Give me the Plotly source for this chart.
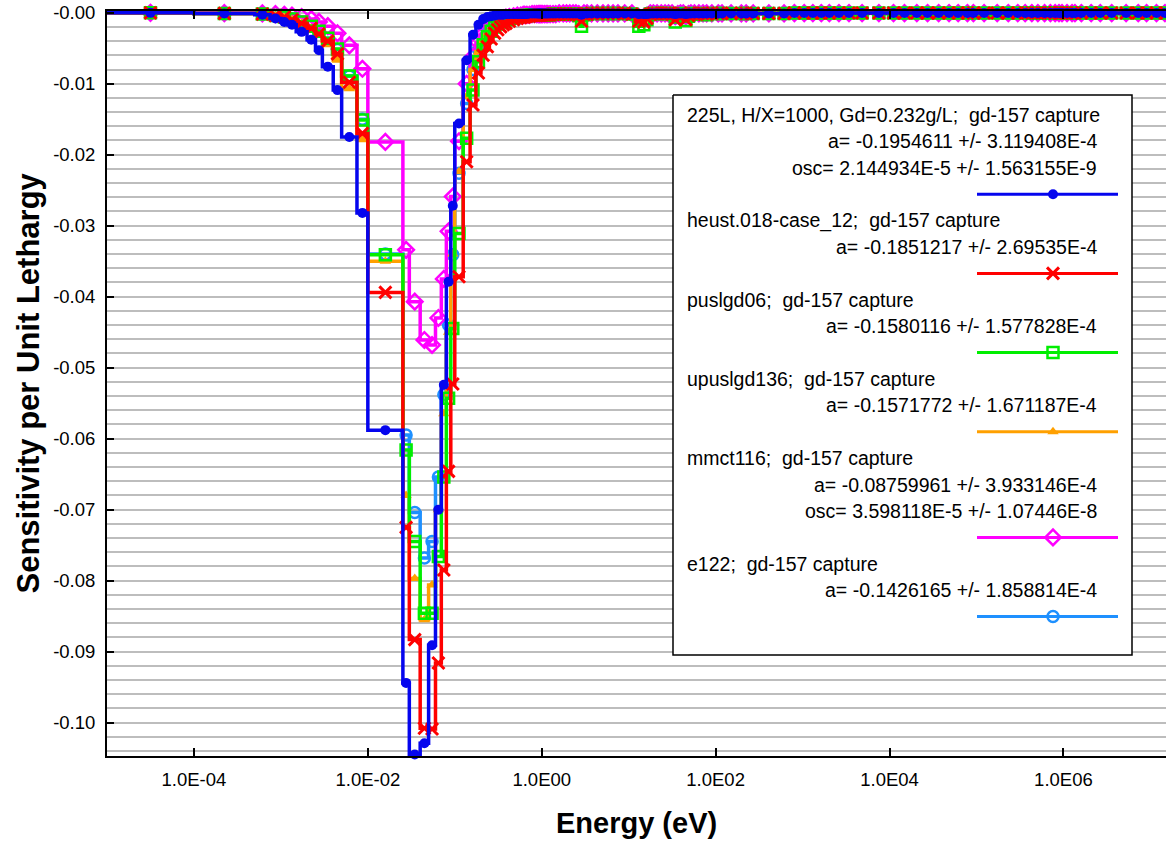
import numpy as np
import plotly.graph_objects as go

FONT = "Liberation Sans, Arial, sans-serif"

# ---------------- energy group boundaries (eV) ----------------
THERMAL_BOUNDS = [
    1e-5, 1e-4, 5e-4, 7.5e-4, 1e-3, 1.2e-3, 1.5e-3, 2e-3, 2.5e-3, 3e-3, 4e-3, 5e-3,
    7.5e-3, 1e-2, 2.53e-2, 3e-2, 4e-2, 5e-2, 6e-2, 7e-2, 8e-2, 9e-2, 0.1, 0.125,
    0.15, 0.175, 0.2, 0.225, 0.25, 0.275, 0.3, 0.325, 0.35, 0.375, 0.4, 0.45,
    0.5, 0.55, 0.6, 0.625, 0.65, 0.7, 0.75, 0.8, 0.85, 0.9, 0.925, 0.95, 0.975, 1.0,
]
EPI_BOUNDS = [
    1.05, 1.1, 1.15, 1.2, 1.3, 1.4, 1.5, 1.68, 1.86, 2.0,
    2.21, 2.38, 2.57, 2.77, 2.97, 3.15, 3.5, 4.0, 4.75, 5.4,
    6.25, 7.0, 8.1, 10.0, 11.9, 14.4, 15.5, 17.0, 18.5, 20.0,
    22.5, 25.0, 27.5, 30.0, 33.25, 35.5, 38.0, 41.0, 44.0, 47.0,
    50.6, 53.4, 61.0, 67.5, 76.0, 82.0, 100.0, 115.0, 122.0, 186.0,
    210.0, 240.0, 305.0, 550.0, 683.0, 950.0, 1150.0, 1500.0, 1800.0, 2290.0,
    3000.0, 3900.0, 6000.0, 9500.0, 1.3e4, 1.7e4, 2.5e4, 3e4, 4.5e4, 5.2e4,
    7.3e4, 8.5e4, 1e5, 1.5e5, 2e5, 2.7e5, 3.3e5, 4e5, 4.7e5, 5.5e5,
    6.7e5, 7.5e5, 8.61e5, 9.2e5, 1.01e6, 1.2e6, 1.317e6, 1.4e6, 1.85e6, 2.354e6,
    3e6, 4.304e6, 6.434e6, 8.187e6, 1e7, 1.384e7, 1.568e7, 2e7,
]

# ---------------- gd-157 capture sensitivity per unit lethargy ----------------
# 225L, H/X=1000, Gd=0.232g/L
s225L_thermal = [
    -0.00002, -0.0001, -0.0003, -0.0008, -0.0013, -0.0017, -0.0027, -0.0038, -0.0053, -0.0076,
    -0.0109, -0.0175, -0.0282, -0.0588, -0.0944, -0.1045, -0.1029, -0.0891, -0.0700, -0.0524,
    -0.0379, -0.0272, -0.0156, -0.0067, -0.0031, -0.0017, -0.0009, -0.0006, -0.0005, -0.0004,
    -0.0003, -0.0003, -0.0003, -0.0002, -0.0002, -0.0002, -0.0002, -0.0002, -0.0002, -0.0002,
    -0.0002, -0.0001, -0.0001, -0.0001, -0.0001, -0.0001, -0.0001, -0.0001, -0.0001,
]
s225L_epi = [
    -0.0001, -0.0001, -0.0001, -0.0001, -0.0001, -0.0001, -0.0001, -0.0001, -0.0001, -0.0001,
    -0.0001, -0.0001, -0.0001, -0.0001, -0.0003, -0.0001, -0.0001, -0.0001, -0.0001, -0.0001,
    -0.0001, -0.0001, -0.0001, -0.0001, -0.0001, -0.0002, -0.0002, -0.0002, -0.0001, -0.0001,
    -0.0001, -0.0001, -0.0001, -0.0001, -0.0001, -0.0002, -0.0001, -0.0001, -0.0001, -0.0002,
    -0.0001, -0.0001, -0.0001, -0.0001, -0.0001, -0.0001, -0.0001, -0.0001, -0.0001, -0.0001,
    -0.0001, -0.0001, -0.0001, -0.0001, -0.0001, -0.00005, -0.00005, -0.00005, -0.00005, -0.00005,
    -0.00005, -0.00005, -0.00005, -0.00005, -0.00005, -0.00005, -0.00005, -0.00005, -0.00005, -0.00005,
    -0.00005, -0.00005, -0.00005, -0.00005, -0.00005, -0.00005, -0.00005, -0.00005, -0.00005, -0.00005,
    -0.00005, -0.00005, -0.00005, -0.00005, -0.00005, -0.00005, -0.00005, -0.00005, -0.00005, -0.00005,
    -0.00005, -0.00005, -0.00005, -0.00005, -0.00005, -0.00005, -0.00005, -0.00005,
]

# heust.018-case_12
heust_thermal = [
    -0.00002, -0.0001, -0.0002, -0.0004, -0.0006, -0.0010, -0.0015, -0.0022, -0.0030, -0.0040,
    -0.0058, -0.0098, -0.0170, -0.0394, -0.0725, -0.0883, -0.1008, -0.1009, -0.0916, -0.0785,
    -0.0646, -0.0523, -0.0372, -0.0210, -0.0130, -0.0085, -0.0060, -0.0048, -0.0037, -0.0029,
    -0.0024, -0.0020, -0.0017, -0.0015, -0.0012, -0.0010, -0.0008, -0.0007, -0.0006, -0.0006,
    -0.0005, -0.0005, -0.0004, -0.0004, -0.0004, -0.0003, -0.0003, -0.0003, -0.0003,
]
heust_epi = [
    -0.0003, -0.0003, -0.0003, -0.0003, -0.0003, -0.0002, -0.0002, -0.0002, -0.0002, -0.0002,
    -0.0002, -0.0002, -0.0002, -0.0003, -0.0012, -0.0002, -0.0002, -0.0001, -0.0001, -0.0001,
    -0.0001, -0.0001, -0.0001, -0.0001, -0.0002, -0.0012, -0.0013, -0.0008, -0.0002, -0.0001,
    -0.0001, -0.0001, -0.0001, -0.0001, -0.0002, -0.0010, -0.0003, -0.0001, -0.0002, -0.0010,
    -0.0004, -0.0001, -0.0002, -0.0001, -0.0001, -0.0002, -0.0001, -0.0001, -0.0001, -0.0001,
    -0.0001, -0.0001, -0.0001, -0.0001, -0.0001, -0.00005, -0.00005, -0.00005, -0.00005, -0.00005,
    -0.00005, -0.00005, -0.00005, -0.00005, -0.00005, -0.00005, -0.00005, -0.00005, -0.00005, -0.00005,
    -0.00005, -0.00005, -0.00005, -0.00005, -0.00005, -0.00005, -0.00005, -0.00005, -0.00005, -0.00005,
    -0.00005, -0.00005, -0.00005, -0.00005, -0.00005, -0.00005, -0.00005, -0.00005, -0.00005, -0.00005,
    -0.00005, -0.00005, -0.00005, -0.00005, -0.00005, -0.00005, -0.00005, -0.00005,
]

# puslgd06
puslgd06_thermal = [
    -0.00002, -0.0001, -0.0002, -0.0004, -0.0006, -0.0009, -0.0013, -0.0019, -0.0026, -0.0036,
    -0.0051, -0.0089, -0.0151, -0.0341, -0.0616, -0.0745, -0.0846, -0.0846, -0.0766, -0.0654,
    -0.0543, -0.0445, -0.0311, -0.0177, -0.0109, -0.0069, -0.0045, -0.0034, -0.0026, -0.0020,
    -0.0016, -0.0013, -0.0011, -0.0010, -0.0008, -0.0007, -0.0006, -0.0005, -0.0005, -0.0004,
    -0.0004, -0.0004, -0.0003, -0.0003, -0.0003, -0.0003, -0.0003, -0.0003, -0.0003,
]
puslgd06_epi = [
    -0.0003, -0.0003, -0.0003, -0.0003, -0.0003, -0.0002, -0.0002, -0.0002, -0.0002, -0.0002,
    -0.0002, -0.0002, -0.0002, -0.0004, -0.0019, -0.0003, -0.0002, -0.0001, -0.0001, -0.0001,
    -0.0001, -0.0001, -0.0001, -0.0001, -0.0002, -0.0019, -0.0017, -0.0010, -0.0002, -0.0001,
    -0.0001, -0.0001, -0.0001, -0.0001, -0.0002, -0.0013, -0.0004, -0.0001, -0.0002, -0.0011,
    -0.0005, -0.0001, -0.0002, -0.0001, -0.0002, -0.0003, -0.0001, -0.0001, -0.0001, -0.0001,
    -0.0001, -0.0001, -0.0001, -0.0001, -0.0001, -0.00005, -0.00005, -0.00005, -0.00005, -0.00005,
    -0.00005, -0.00005, -0.00005, -0.00005, -0.00005, -0.00005, -0.00005, -0.00005, -0.00005, -0.00005,
    -0.00005, -0.00005, -0.00005, -0.00005, -0.00005, -0.00005, -0.00005, -0.00005, -0.00005, -0.00005,
    -0.00005, -0.00005, -0.00005, -0.00005, -0.00005, -0.00005, -0.00005, -0.00005, -0.00005, -0.00005,
    -0.00005, -0.00005, -0.00005, -0.00005, -0.00005, -0.00005, -0.00005, -0.00005,
]

# upuslgd136
upuslgd136_thermal = [
    -0.00002, -0.0001, -0.0002, -0.0004, -0.0006, -0.0010, -0.0015, -0.0022, -0.0032, -0.0045,
    -0.0067, -0.0107, -0.0179, -0.0350, -0.0680, -0.0797, -0.0855, -0.0806, -0.0700, -0.0565,
    -0.0450, -0.0340, -0.0224, -0.0118, -0.0080, -0.0055, -0.0040, -0.0030, -0.0023, -0.0018,
    -0.0015, -0.0012, -0.0010, -0.0009, -0.0008, -0.0007, -0.0006, -0.0005, -0.0005, -0.0004,
    -0.0004, -0.0004, -0.0003, -0.0003, -0.0003, -0.0003, -0.0003, -0.0003, -0.0003,
]
upuslgd136_epi = [
    -0.0003, -0.0003, -0.0003, -0.0003, -0.0003, -0.0002, -0.0002, -0.0002, -0.0002, -0.0002,
    -0.0002, -0.0002, -0.0002, -0.0003, -0.0011, -0.0002, -0.0002, -0.0001, -0.0001, -0.0001,
    -0.0001, -0.0001, -0.0001, -0.0001, -0.0002, -0.0010, -0.0011, -0.0007, -0.0002, -0.0001,
    -0.0001, -0.0001, -0.0001, -0.0001, -0.0002, -0.0008, -0.0003, -0.0001, -0.0002, -0.0008,
    -0.0003, -0.0001, -0.0002, -0.0001, -0.0001, -0.0002, -0.0001, -0.0001, -0.0001, -0.0001,
    -0.0001, -0.0001, -0.0001, -0.0001, -0.0001, -0.00005, -0.00005, -0.00005, -0.00005, -0.00005,
    -0.00005, -0.00005, -0.00005, -0.00005, -0.00005, -0.00005, -0.00005, -0.00005, -0.00005, -0.00005,
    -0.00005, -0.00005, -0.00005, -0.00005, -0.00005, -0.00005, -0.00005, -0.00005, -0.00005, -0.00005,
    -0.00005, -0.00005, -0.00005, -0.00005, -0.00005, -0.00005, -0.00005, -0.00005, -0.00005, -0.00005,
    -0.00005, -0.00005, -0.00005, -0.00005, -0.00005, -0.00005, -0.00005, -0.00005,
]

# mmct116
mmct116_thermal = [
    -0.00002, -0.00005, -0.0001, -0.0002, -0.0003, -0.0004, -0.0006, -0.0009, -0.0013, -0.0019,
    -0.0029, -0.0046, -0.0079, -0.0182, -0.0334, -0.0407, -0.0461, -0.0468, -0.0430, -0.0375,
    -0.0308, -0.0259, -0.0181, -0.0100, -0.0062, -0.0042, -0.0030, -0.0022, -0.0017, -0.0014,
    -0.0011, -0.0009, -0.0008, -0.0007, -0.0006, -0.0005, -0.0004, -0.0004, -0.0003, -0.0003,
    -0.0003, -0.0003, -0.0002, -0.0002, -0.0002, -0.0002, -0.0002, -0.0002, -0.0002,
]
mmct116_epi = [
    -0.0002, -0.0002, -0.0002, -0.0002, -0.0002, -0.0002, -0.0002, -0.0001, -0.0001, -0.0001,
    -0.0001, -0.0001, -0.0001, -0.0002, -0.0006, -0.0001, -0.0001, -0.0001, -0.0001, -0.0001,
    -0.0001, -0.0001, -0.0001, -0.0001, -0.0001, -0.0006, -0.0006, -0.0004, -0.0001, -0.0001,
    -0.0001, -0.0001, -0.0001, -0.0001, -0.0001, -0.0005, -0.0002, -0.0001, -0.0001, -0.0005,
    -0.0002, -0.0001, -0.0001, -0.0001, -0.0001, -0.0001, -0.0001, -0.0001, -0.0001, -0.0001,
    -0.0001, -0.0001, -0.0001, -0.0001, -0.0001, -0.00005, -0.00005, -0.00005, -0.00005, -0.00005,
    -0.00005, -0.00005, -0.00005, -0.00005, -0.00005, -0.00005, -0.00005, -0.00005, -0.00005, -0.00005,
    -0.00005, -0.00005, -0.00005, -0.00005, -0.00005, -0.00005, -0.00005, -0.00005, -0.00005, -0.00005,
    -0.00005, -0.00005, -0.00005, -0.00005, -0.00005, -0.00005, -0.00005, -0.00005, -0.00005, -0.00005,
    -0.00005, -0.00005, -0.00005, -0.00005, -0.00005, -0.00005, -0.00005, -0.00005,
]

# e122
e122_thermal = [
    -0.00002, -0.0001, -0.0002, -0.0004, -0.0006, -0.0009, -0.0013, -0.0019, -0.0026, -0.0036,
    -0.0052, -0.0089, -0.0150, -0.0340, -0.0595, -0.0704, -0.0768, -0.0745, -0.0654, -0.0538,
    -0.0440, -0.0341, -0.0226, -0.0128, -0.0080, -0.0052, -0.0037, -0.0028, -0.0022, -0.0017,
    -0.0014, -0.0011, -0.0010, -0.0009, -0.0007, -0.0006, -0.0005, -0.0005, -0.0004, -0.0004,
    -0.0004, -0.0003, -0.0003, -0.0003, -0.0003, -0.0002, -0.0002, -0.0002, -0.0002,
]
e122_epi = [
    -0.0002, -0.0002, -0.0002, -0.0002, -0.0002, -0.0002, -0.0002, -0.0002, -0.0002, -0.0002,
    -0.0002, -0.0002, -0.0002, -0.0003, -0.0010, -0.0002, -0.0002, -0.0001, -0.0001, -0.0001,
    -0.0001, -0.0001, -0.0001, -0.0001, -0.0002, -0.0010, -0.0010, -0.0006, -0.0001, -0.0001,
    -0.0001, -0.0001, -0.0001, -0.0001, -0.0001, -0.0007, -0.0002, -0.0001, -0.0001, -0.0007,
    -0.0003, -0.0001, -0.0001, -0.0001, -0.0001, -0.0002, -0.0001, -0.0001, -0.0001, -0.0001,
    -0.0001, -0.0001, -0.0001, -0.0001, -0.0001, -0.00005, -0.00005, -0.00005, -0.00005, -0.00005,
    -0.00005, -0.00005, -0.00005, -0.00005, -0.00005, -0.00005, -0.00005, -0.00005, -0.00005, -0.00005,
    -0.00005, -0.00005, -0.00005, -0.00005, -0.00005, -0.00005, -0.00005, -0.00005, -0.00005, -0.00005,
    -0.00005, -0.00005, -0.00005, -0.00005, -0.00005, -0.00005, -0.00005, -0.00005, -0.00005, -0.00005,
    -0.00005, -0.00005, -0.00005, -0.00005, -0.00005, -0.00005, -0.00005, -0.00005,
]

# ---------------- legend texts ----------------
NB = "\u00a0"
LEGEND_TEXT = [
    ["225L, H/X=1000, Gd=0.232g/L;" + NB + " gd-157 capture",
     "a= -0.1954611 +/- 3.119408E-4",
     "osc= 2.144934E-5 +/- 1.563155E-9"],
    ["heust.018-case_12;" + NB + " gd-157 capture",
     "a= -0.1851217 +/- 2.69535E-4"],
    ["puslgd06;" + NB + " gd-157 capture",
     "a= -0.1580116 +/- 1.577828E-4"],
    ["upuslgd136;" + NB + " gd-157 capture",
     "a= -0.1571772 +/- 1.671187E-4"],
    ["mmct116;" + NB + " gd-157 capture",
     "a= -0.08759961 +/- 3.933146E-4",
     "osc= 3.598118E-5 +/- 1.07446E-8"],
    ["e122;" + NB + " gd-157 capture",
     "a= -0.1426165 +/- 1.858814E-4"],
]

# ---------------- axis ticks ----------------
X_TICK_VALUES = [1e-4, 1e-2, 1e0, 1e2, 1e4, 1e6]
X_TICK_TEXT = ["1.0E-04", "1.0E-02", "1.0E00", "1.0E02", "1.0E04", "1.0E06"]
Y_TICK_VALUES = [0.0, -0.01, -0.02, -0.03, -0.04, -0.05, -0.06, -0.07, -0.08, -0.09, -0.10]
Y_TICK_TEXT = ["-0.00", "-0.01", "-0.02", "-0.03", "-0.04", "-0.05",
               "-0.06", "-0.07", "-0.08", "-0.09", "-0.10"]

# ---------------- styles ----------------
BLUE, RED, GREEN = "#0505ee", "#ff0000", "#00ee00"
ORANGE, MAGENTA, SKY = "#ffa000", "#ff00ff", "#1e90ff"

SERIES = [
    (s225L_thermal + s225L_epi, BLUE, dict(symbol="circle", size=10, color=BLUE)),
    (heust_thermal + heust_epi, RED,
     dict(symbol="x-thin-open", size=12, color=RED, line=dict(color=RED, width=3))),
    (puslgd06_thermal + puslgd06_epi, GREEN,
     dict(symbol="square-open", size=11, color=GREEN, line=dict(color=GREEN, width=2.5))),
    (upuslgd136_thermal + upuslgd136_epi, ORANGE,
     dict(symbol="triangle-up", size=10, color=ORANGE)),
    (mmct116_thermal + mmct116_epi, MAGENTA,
     dict(symbol="diamond-open", size=12, color=MAGENTA, line=dict(color=MAGENTA, width=2.5))),
    (e122_thermal + e122_epi, SKY,
     dict(symbol="circle-open", size=11, color=SKY, line=dict(color=SKY, width=2.5))),
]

bounds = np.array(THERMAL_BOUNDS + EPI_BOUNDS)
mids = np.sqrt(bounds[:-1] * bounds[1:])
for vals, _, _ in SERIES:
    assert len(vals) == len(bounds) - 1

fig = go.Figure()

# later entries first so that the first series ends on top
for vals, color, mk in reversed(SERIES):
    fig.add_trace(go.Scatter(
        x=bounds, y=list(vals) + [vals[-1]], mode="lines",
        line=dict(shape="hv", color=color, width=3.5),
        cliponaxis=False, hoverinfo="skip", showlegend=False))
    fig.add_trace(go.Scatter(
        x=mids, y=vals, mode="markers", marker=mk,
        cliponaxis=False, hoverinfo="skip", showlegend=False))

# ---------------- legend panel (pixel-space overlay axes) ----------------
PLOT_L, PLOT_R, PLOT_T, PLOT_B = 107, 1166, 11, 756
BOX_L, BOX_R, BOX_T, BOX_B = 673, 1132, 95, 655
ROW0, ROW_STEP = 115, 26.4
TEXT_L, TEXT_R = 685, 1099
SAMPLE_L, SAMPLE_R, SAMPLE_MARK = 977, 1118, 1053

fig.add_trace(go.Scatter(
    x=[BOX_L, BOX_R, BOX_R, BOX_L, BOX_L], y=[BOX_T, BOX_T, BOX_B, BOX_B, BOX_T],
    xaxis="x2", yaxis="y2", mode="lines", fill="toself", fillcolor="white",
    line=dict(color="black", width=1.5), hoverinfo="skip", showlegend=False))

annotations = []
row = 0
for lines, (vals, color, mk) in zip(LEGEND_TEXT, SERIES):
    for j, txt in enumerate(lines):
        y = ROW0 + row * ROW_STEP
        annotations.append(dict(
            x=TEXT_L if j == 0 else TEXT_R, y=y, xref="x2", yref="y2",
            xanchor="left" if j == 0 else "right", yanchor="middle",
            text=txt, showarrow=False,
            font=dict(family=FONT, size=19.5, color="black")))
        row += 1
    y = ROW0 + row * ROW_STEP
    fig.add_trace(go.Scatter(
        x=[SAMPLE_L, SAMPLE_R], y=[y, y], xaxis="x2", yaxis="y2", mode="lines",
        line=dict(color=color, width=3), hoverinfo="skip", showlegend=False))
    fig.add_trace(go.Scatter(
        x=[SAMPLE_MARK], y=[y], xaxis="x2", yaxis="y2", mode="markers",
        marker=mk, hoverinfo="skip", showlegend=False))
    row += 1

# axis titles
annotations.append(dict(
    text="Energy (eV)", x=0.5, y=0, xref="paper", yref="paper",
    xanchor="center", yanchor="middle", yshift=-67, showarrow=False,
    font=dict(family=FONT, size=29, color="black", weight="bold")))
annotations.append(dict(
    text="Sensitivity per Unit Lethargy", x=0, y=0.5, xref="paper", yref="paper",
    xanchor="center", yanchor="middle", xshift=-79, textangle=-90, showarrow=False,
    font=dict(family=FONT, size=31, color="black", weight="bold")))

tick_font = dict(family=FONT, size=18.5, color="black")
fig.update_layout(
    width=1166, height=842,
    margin=dict(l=PLOT_L, r=1166 - PLOT_R, t=PLOT_T, b=842 - PLOT_B),
    paper_bgcolor="white", plot_bgcolor="white", showlegend=False,
    annotations=annotations,
    xaxis=dict(
        type="log", range=[-5, 7.18], tickmode="array",
        tickvals=X_TICK_VALUES, ticktext=X_TICK_TEXT,
        ticks="inside", ticklen=8, tickwidth=2, tickcolor="black",
        showline=True, linecolor="black", linewidth=2, mirror="ticks",
        showgrid=False, zeroline=False, tickfont=tick_font, ticklabelstandoff=6),
    yaxis=dict(
        range=[-0.1047, 0.00024], tickmode="array",
        tickvals=Y_TICK_VALUES, ticktext=Y_TICK_TEXT,
        ticks="inside", ticklen=7, tickwidth=2, tickcolor="black",
        showline=True, linecolor="black", linewidth=2, mirror=False,
        showgrid=True, gridcolor="#bdbdbd", gridwidth=1.5,
        minor=dict(tickmode="linear", tick0=0, dtick=0.002, showgrid=True,
                   gridcolor="#bdbdbd", gridwidth=1.5, ticks=""),
        zeroline=False, tickfont=tick_font, ticklabelstandoff=6),
    xaxis2=dict(overlaying="x", anchor="y2", range=[PLOT_L, PLOT_R], visible=False),
    yaxis2=dict(overlaying="y", anchor="x2", range=[PLOT_B, PLOT_T], visible=False),
)

fig.write_html("out.html")
